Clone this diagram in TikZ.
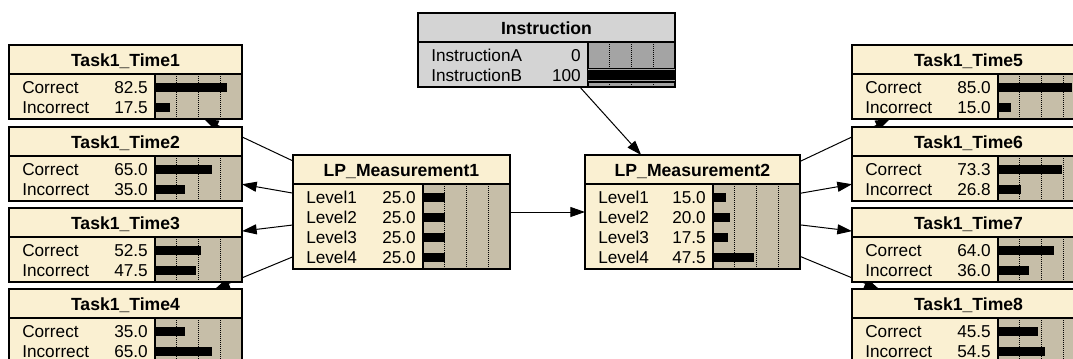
\documentclass[tikz,border=0pt]{standalone}
\usepackage{fontspec}
\setmainfont{Liberation Sans}
\usetikzlibrary{arrows.meta}

\pgfdeclarelayer{background}
\pgfsetlayers{background,main}

\definecolor{nodebeige}{RGB}{250,240,210}
\definecolor{barbeige}{RGB}{198,190,168}
\definecolor{nodegray}{RGB}{212,212,212}
\definecolor{bargray}{RGB}{164,164,164}

\tikzset{
  boxframe/.style={draw=black, line width=0.9pt, rectangle, inner sep=0pt, outer sep=0pt, anchor=north west},
  rule/.style={draw=black, line width=0.9pt},
  gridline/.style={draw=black, line width=0.45pt, dash pattern=on 0.75pt off 0.75pt},
  titletext/.style={font=\fontsize{13.2}{15}\selectfont\bfseries, inner sep=0pt, anchor=base},
  rowtext/.style={font=\fontsize{12.9}{15}\selectfont, inner sep=0pt},
  link/.style={draw=black, line width=0.75pt, -{Triangle[length=11pt,width=7.5pt]}},
}

% Belief-bar node.
% #1 name, #2 left, #3 top, #4 width of the label column, #5 number of states,
% #6 body colour, #7 colour behind the bars, #8 title, #9 states as label/value/percent
\newcommand\beliefnode[9]{%
  \pgfmathsetmacro\nodeH{34+20*#5}%
  \node[boxframe, fill=#6, minimum width={(#4+87)*0.75pt}, minimum height={\nodeH*0.75pt}] (#1) at (#2,#3) {};
  \fill[#7] (#2+#4,#3+29) rectangle (#2+#4+87,#3+\nodeH);
  \foreach \g in {0.25,0.5,0.75}
    \draw[gridline] (#2+#4+87*\g,#3+29) -- (#2+#4+87*\g,#3+\nodeH);
  \foreach \lab/\val/\pct [count=\k from 0] in {#9} {
    \fill[black] (#2+#4,#3+37.5+20*\k) rectangle (#2+#4+0.87*\pct,#3+47+20*\k);
    \node[rowtext, anchor=base west] at (#2+13,#3+48+20*\k) {\lab};
    \node[rowtext, anchor=base east] at (#2+#4-7,#3+48+20*\k) {\val};
  }
  \draw[rule] (#2,#3+29) -- (#2+#4+87,#3+29);
  \draw[rule] (#2+#4,#3+29) -- (#2+#4,#3+\nodeH);
  \draw[rule] (#1.north west) rectangle (#1.south east);
  \node[titletext] at (#2+#4/2+43.5,#3+21) {#8};
}

\begin{document}
\begin{tikzpicture}[x=0.75pt,y=-0.75pt]
\useasboundingbox (0,0) rectangle (1073,358);
\begin{pgfonlayer}{background}
  \fill[white] (0,0) rectangle (1073,358);
\end{pgfonlayer}

% decision node
\beliefnode{inst}{418}{13}{170}{2}{nodegray}{bargray}{Instruction}
  {InstructionA/0/0, InstructionB/100/100}
% the full bar of the chosen decision is drawn banded
\fill[black] (588,67.5) rectangle (675,82.5);
\draw[bargray, line width=0.5pt] (588,69.8) -- (675,69.8);
\draw[bargray, line width=0.5pt] (588,80.2) -- (675,80.2);

% latent measurement nodes
\beliefnode{lp1}{293}{155}{130}{4}{nodebeige}{barbeige}{LP\_Measurement1}
  {Level1/25.0/25, Level2/25.0/25, Level3/25.0/25, Level4/25.0/25}
\beliefnode{lp2}{585}{155}{128}{4}{nodebeige}{barbeige}{LP\_Measurement2}
  {Level1/15.0/15, Level2/20.0/20, Level3/17.5/17.5, Level4/47.5/47.5}

% task outcome nodes, left column
\beliefnode{t1}{9}{45}{146}{2}{nodebeige}{barbeige}{Task1\_Time1}
  {Correct/82.5/82.5, Incorrect/17.5/17.5}
\beliefnode{t2}{9}{127}{146}{2}{nodebeige}{barbeige}{Task1\_Time2}
  {Correct/65.0/65, Incorrect/35.0/35}
\beliefnode{t3}{9}{208}{146}{2}{nodebeige}{barbeige}{Task1\_Time3}
  {Correct/52.5/52.5, Incorrect/47.5/47.5}
\beliefnode{t4}{9}{289}{146}{2}{nodebeige}{barbeige}{Task1\_Time4}
  {Correct/35.0/35, Incorrect/65.0/65}

% task outcome nodes, right column
\beliefnode{t5}{852}{45}{146}{2}{nodebeige}{barbeige}{Task1\_Time5}
  {Correct/85.0/85, Incorrect/15.0/15}
\beliefnode{t6}{852}{127}{146}{2}{nodebeige}{barbeige}{Task1\_Time6}
  {Correct/73.3/73.3, Incorrect/26.8/26.8}
\beliefnode{t7}{852}{208}{146}{2}{nodebeige}{barbeige}{Task1\_Time7}
  {Correct/64.0/64, Incorrect/36.0/36}
\beliefnode{t8}{852}{289}{146}{2}{nodebeige}{barbeige}{Task1\_Time8}
  {Correct/45.5/45.5, Incorrect/54.5/54.5}

% links run centre to centre, beneath the nodes
\begin{pgfonlayer}{background}
  \draw[link] (inst) -- (lp2);
  \draw[link] (lp1) -- (lp2);
  \foreach \t in {t1,t2,t3,t4} \draw[link] (lp1) -- (\t);
  \foreach \t in {t5,t6,t7,t8} \draw[link] (lp2) -- (\t);
\end{pgfonlayer}
\end{tikzpicture}
\end{document}
